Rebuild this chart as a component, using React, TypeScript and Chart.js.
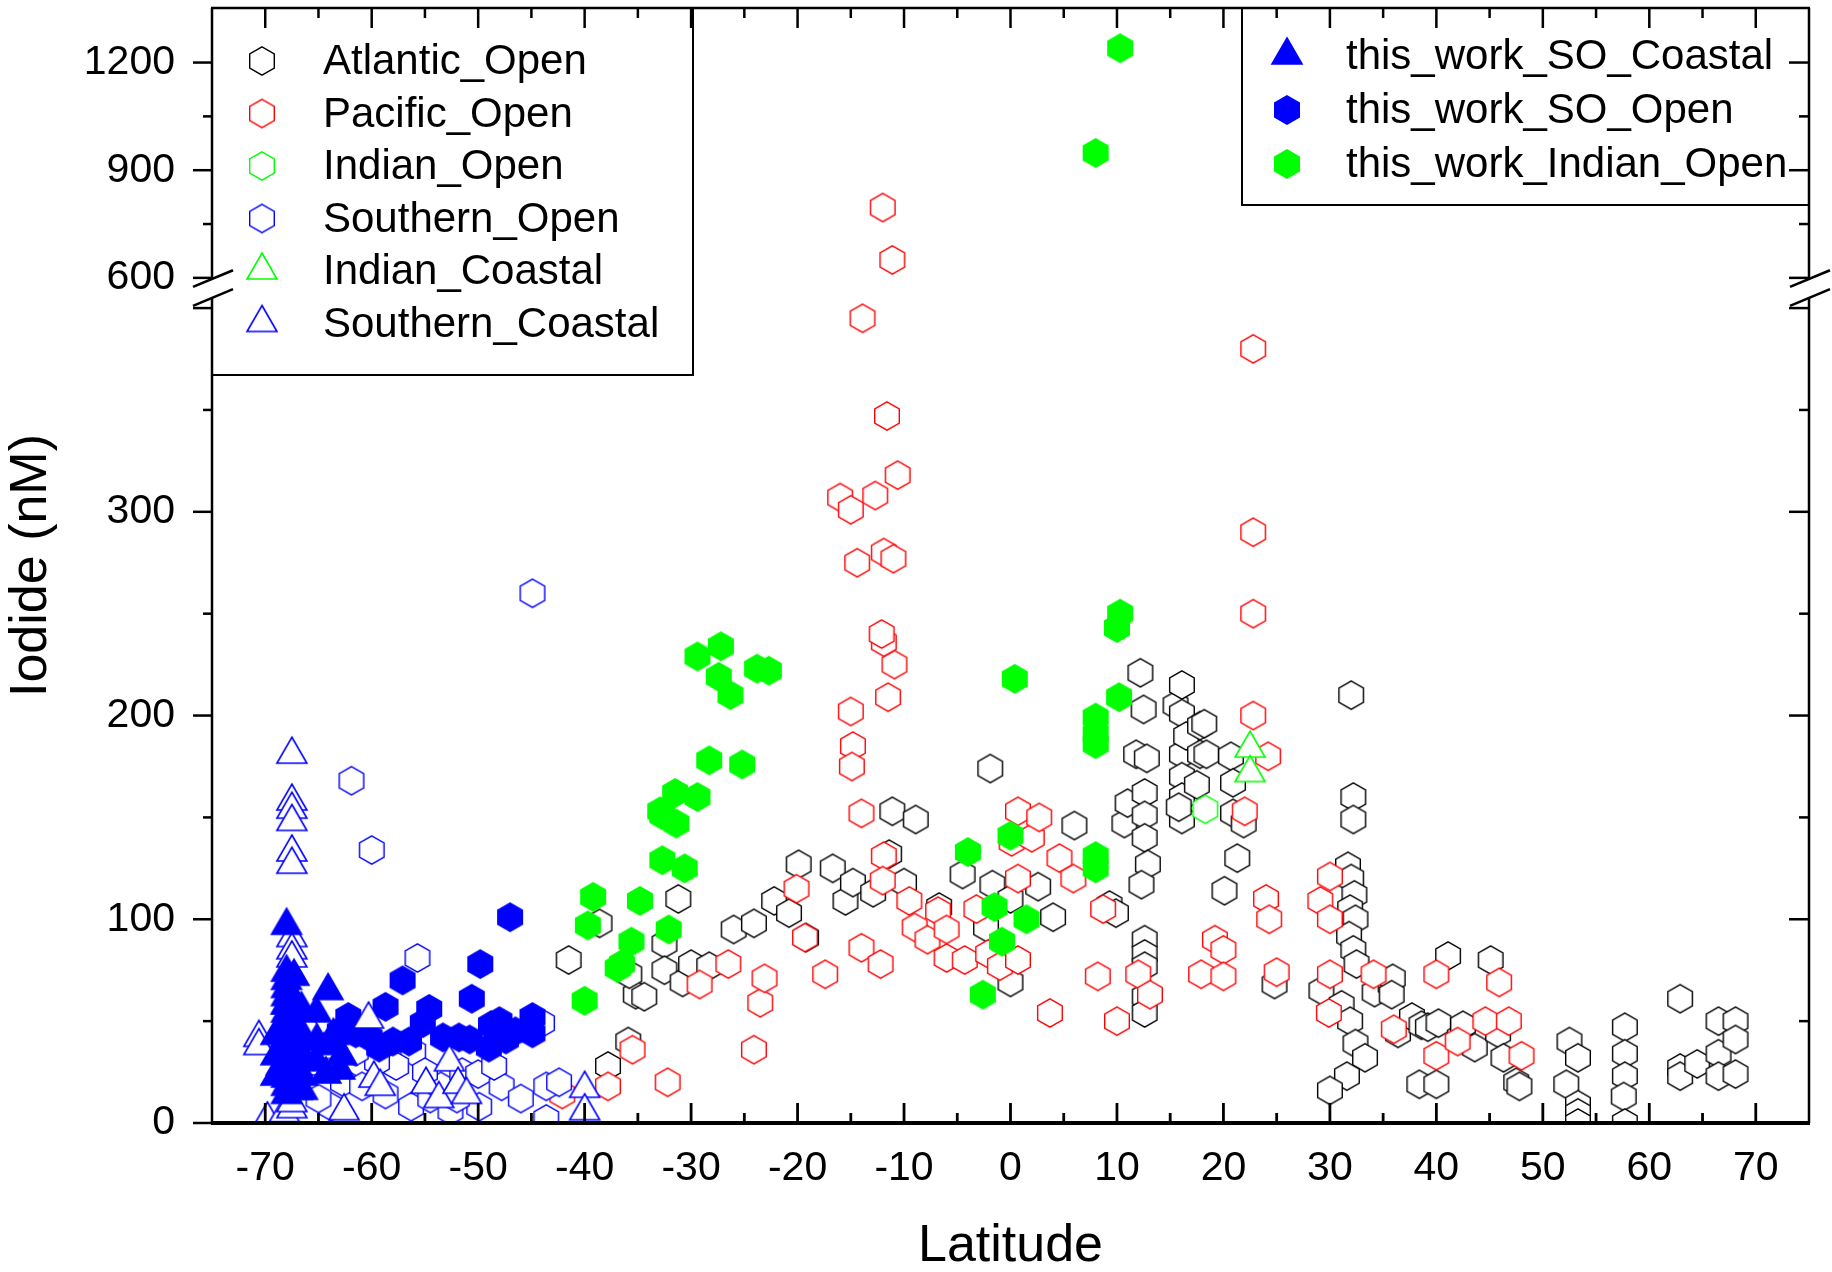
import { useEffect, useRef } from 'react';
import { Chart, ScatterController, PointElement, LinearScale } from 'chart.js';

const FONT = '"Liberation Sans", Arial, sans-serif';

// latitude, iodide (nM)
const atlanticOpen: [number, number][] = [
  [-41.5, 80], [-38.6, 98], [-37.8, 28], [-35.9, 40], [-35.2, 63], [-35.8, 73], [-34.4, 62], [-32.5, 88],
  [-32.5, 75], [-31.2, 110], [-30.8, 69], [-30.0, 78], [-28.3, 77], [-26.0, 95], [-24.1, 98], [-22.2, 109],
  [-20.8, 103], [-19.9, 127], [-19.2, 91], [-16.7, 125], [-15.5, 109], [-14.8, 118], [-12.9, 113], [-11.4, 132],
  [-11.1, 153], [-10.0, 118], [-8.9, 149], [-6.7, 106], [-4.5, 122], [-2.3, 96], [-1.9, 174], [-1.7, 117],
  [0.0, 110], [0.0, 69], [2.6, 116], [4.0, 101], [6.0, 146], [9.3, 107], [9.9, 103], [10.7, 147],
  [11.0, 157], [11.8, 181], [12.2, 221], [12.5, 203], [12.8, 179], [12.6, 162], [12.6, 151], [12.6, 140],
  [12.9, 127], [12.3, 117], [12.6, 90], [12.6, 83], [12.6, 77], [12.6, 62], [12.6, 54], [15.5, 205],
  [16.1, 215], [16.1, 201], [16.1, 181], [16.1, 170], [16.1, 160], [16.1, 149], [15.8, 155], [16.5, 190],
  [17.5, 166], [17.8, 195], [17.8, 181], [18.2, 196], [18.4, 181], [20.7, 180], [20.9, 167], [20.9, 152],
  [21.9, 147], [21.3, 130], [20.1, 114], [24.8, 68], [32.0, 210], [32.2, 160], [32.2, 149], [31.7, 126],
  [32.0, 120], [32.3, 112], [31.9, 105], [32.4, 100], [31.8, 92], [32.2, 85], [32.5, 78], [29.2, 65],
  [31.1, 58], [31.9, 50], [32.4, 39], [33.3, 32], [31.6, 23], [30.0, 16], [34.2, 64], [35.7, 68],
  [35.9, 71], [35.8, 63], [36.4, 44], [37.7, 52], [38.6, 48], [39.2, 47], [40.2, 49], [41.1, 82],
  [42.2, 42], [42.5, 48], [43.6, 37], [45.1, 80], [45.8, 44], [46.3, 32], [38.4, 19], [40.0, 19],
  [47.5, 20], [47.8, 18], [52.2, 19], [52.5, 40], [53.3, 32], [53.3, 9], [53.3, 5], [53.3, 0],
  [57.7, 47], [57.7, 34], [57.7, 23], [57.6, 13], [57.7, 0], [62.9, 61], [62.9, 27], [62.9, 23],
  [64.5, 29], [66.5, 50], [66.5, 34], [66.5, 23], [68.1, 50], [68.1, 41], [68.1, 24],
];

const pacificOpen: [number, number][] = [
  [-42.1, 14], [-37.8, 18], [-35.5, 36], [-32.2, 20], [-29.2, 68], [-26.5, 78], [-24.1, 36], [-23.5, 59],
  [-23.1, 71], [-20.1, 115], [-19.3, 91], [-17.4, 73], [-15.0, 202], [-14.8, 185], [-14.9, 175], [-14.0, 152],
  [-14.0, 86], [-12.2, 78], [-11.9, 131], [-12.0, 119], [-11.5, 209], [-10.9, 225], [-11.9, 236], [-12.1, 240],
  [-9.5, 109], [-9.0, 96], [-7.8, 90], [-6.8, 104], [-6.0, 95], [-6.0, 81], [-4.3, 80], [-3.2, 105],
  [-2.1, 83], [-1.0, 77], [0.1, 138], [0.7, 153], [0.7, 120], [0.7, 80], [2.0, 140], [2.7, 150],
  [4.6, 130], [5.9, 120], [3.7, 54], [8.2, 72], [8.7, 105], [10.0, 50], [12.0, 73], [13.1, 63],
  [17.9, 73], [19.2, 90], [20.0, 85], [20.0, 72], [22.0, 153], [22.8, 200], [24.2, 180], [24.0, 110],
  [24.3, 100], [25.0, 74], [29.1, 109], [30.0, 121], [30.0, 100], [30.0, 73], [29.9, 54], [34.1, 73],
  [36.0, 46], [40.0, 73], [40.0, 33], [42.0, 40], [44.6, 50], [46.8, 50], [45.9, 69], [48.0, 33],
  [-16.0, 307], [-15.0, 301], [-12.7, 308], [-14.4, 275], [-11.9, 280], [-11.0, 277], [-11.6, 347], [-10.6, 318],
  [-13.9, 395], [-11.1, 650], [-12.0, 796], [22.8, 380], [22.8, 290], [22.8, 250],
];

const indianOpen: [number, number][] = [[18.3, 154]];

const southernOpen: [number, number][] = [
  [-61.9, 168], [-60.0, 134], [-55.7, 81], [-56.1, 35], [-57.7, 28], [-62.7, 20], [-63.8, 8], [-60.9, 18],
  [-58.7, 14], [-56.3, 8], [-54.5, 12], [-53.5, 18], [-52.6, 6], [-51.5, 25], [-49.9, 8], [-50.0, 24],
  [-47.8, 18], [-46.0, 12], [-43.6, 18], [-42.4, 20], [-43.6, 2], [-44.0, 49], [-44.9, 260], [-59.5, 30],
  [-61.5, 35], [-55.0, 25], [-52.0, 12], [-48.5, 28], [-65.0, 12],
];

const indianCoastal: [number, number][] = [[22.5, 186], [22.5, 174]];

const southernCoastal: [number, number][] = [
  [-70.6, 44], [-70.6, 40], [-69.8, 4], [-68.2, 7], [-67.5, 9], [-67.5, 183], [-67.5, 160], [-67.5, 156],
  [-67.5, 150], [-67.5, 135], [-67.5, 129], [-67.5, 93], [-67.5, 87], [-67.5, 83], [-67.5, 12], [-67.0, 18],
  [-66.3, 40], [-65.5, 30], [-64.5, 38], [-62.6, 8], [-60.3, 53], [-59.8, 24], [-59.2, 20], [-54.9, 21],
  [-53.7, 14], [-52.7, 32], [-51.9, 21], [-51.1, 16], [-40.0, 19], [-40.0, 8], [-68.5, 30], [-68.0, 60],
  [-66.0, 50],
];

const workSoCoastal: [number, number][] = [
  [-68.0, 99], [-68.0, 76], [-68.0, 72], [-68.0, 68], [-68.0, 64], [-68.0, 60], [-68.0, 56], [-68.0, 52],
  [-68.0, 48], [-68.0, 44], [-68.0, 40], [-68.0, 36], [-68.0, 32], [-68.0, 28], [-68.0, 24], [-68.0, 20],
  [-68.0, 16], [-67.3, 74], [-67.3, 62], [-67.3, 50], [-67.3, 38], [-67.3, 28], [-69.0, 45], [-69.0, 35],
  [-69.0, 25], [-66.6, 58], [-66.5, 45], [-66.5, 35], [-66.5, 25], [-66.5, 18], [-65.2, 56], [-65.2, 42],
  [-65.2, 32], [-64.1, 67], [-64.1, 40], [-64.3, 26], [-63.6, 45], [-62.8, 35], [-63.0, 28],
];

const workSoOpen: [number, number][] = [
  [-62.2, 52], [-61.5, 44], [-60.2, 42], [-59.3, 37], [-58.7, 57], [-58.0, 40], [-57.1, 70], [-56.5, 40],
  [-55.2, 49], [-54.6, 56], [-53.3, 42], [-51.8, 42], [-50.8, 41], [-50.6, 61], [-49.8, 78], [-49.0, 37],
  [-48.8, 48], [-48.0, 50], [-47.4, 41], [-47.0, 101], [-46.5, 45], [-44.9, 52], [-44.9, 44], [-63.0, 45],
];

const workIndianOpen: [number, number][] = [
  [-40.0, 60], [-39.7, 97], [-39.2, 111], [-36.9, 76], [-36.5, 78], [-35.6, 89], [-34.8, 109], [-32.1, 95],
  [-32.7, 129], [-30.6, 125], [-32.9, 153], [-32.7, 151], [-31.4, 147], [-31.5, 162], [-29.4, 160], [-28.3, 178],
  [-25.2, 176], [-29.4, 229], [-27.2, 234], [-27.4, 219], [-26.3, 210], [-23.8, 223], [-22.7, 222], [-4.0, 133],
  [0.0, 141], [-1.5, 106], [-0.8, 89], [1.5, 100], [-2.6, 63], [0.4, 218], [8.0, 199], [8.0, 191],
  [8.0, 186], [8.0, 131], [8.0, 125], [10.2, 209], [10.0, 243], [10.3, 250], [8.0, 948], [10.3, 1240],
];

const xTicks = [-70, -60, -50, -40, -30, -20, -10, 0, 10, 20, 30, 40, 50, 60, 70];
const xMinor = [-65, -55, -45, -35, -25, -15, -5, 5, 15, 25, 35, 45, 55, 65];
const yTicks = [0, 100, 200, 300, 600, 900, 1200];
const yMajorMarks = [0, 100, 200, 300, 400, 600, 900, 1200];
const yMinorMarks = [50, 150, 250, 350, 750, 1050];

// broken y axis: 0..405 below the break, 597..1352 above it
const LOW_TOP = 405;
const HIGH_BOTTOM = 597;
const Y_MAX = 1352;
const LOW_SHARE = 0.74;
const GAP_SHARE = 0.017;

class BrokenLinearScale extends LinearScale {
  static id = 'brokenLinear';
  static defaults = {};

  toDecimal(v: number) {
    if (v <= LOW_TOP) return (v / LOW_TOP) * LOW_SHARE;
    if (v < HIGH_BOTTOM) return LOW_SHARE + GAP_SHARE / 2;
    return LOW_SHARE + GAP_SHARE + ((v - HIGH_BOTTOM) / (Y_MAX - HIGH_BOTTOM)) * (1 - LOW_SHARE - GAP_SHARE);
  }

  getPixelForValue(v: number) {
    return this.bottom - this.toDecimal(v) * (this.bottom - this.top);
  }

  getValueForPixel(p: number) {
    const d = (this.bottom - p) / (this.bottom - this.top);
    if (d <= LOW_SHARE) return (d / LOW_SHARE) * LOW_TOP;
    return HIGH_BOTTOM + ((d - LOW_SHARE - GAP_SHARE) / (1 - LOW_SHARE - GAP_SHARE)) * (Y_MAX - HIGH_BOTTOM);
  }
}

Chart.register(ScatterController, PointElement, LinearScale, BrokenLinearScale);

const HEX_R = 14.2;

function hexMarker(stroke: string, fill: string) {
  const c = document.createElement('canvas');
  c.width = 32;
  c.height = 32;
  const g = c.getContext('2d')!;
  g.beginPath();
  for (let k = 0; k < 6; k++) {
    const a = -Math.PI / 2 + (k * Math.PI) / 3;
    const px = 16 + HEX_R * Math.cos(a);
    const py = 16 + HEX_R * Math.sin(a);
    if (k === 0) g.moveTo(px, py);
    else g.lineTo(px, py);
  }
  g.closePath();
  g.fillStyle = fill;
  g.fill();
  g.lineWidth = 1.4;
  g.strokeStyle = stroke;
  g.stroke();
  return c;
}

function triMarker(stroke: string, fill: string) {
  const c = document.createElement('canvas');
  c.width = 36;
  c.height = 32;
  const g = c.getContext('2d')!;
  g.beginPath();
  g.moveTo(18, 3);
  g.lineTo(33, 29);
  g.lineTo(3, 29);
  g.closePath();
  g.fillStyle = fill;
  g.fill();
  g.lineWidth = 1.6;
  g.strokeStyle = stroke;
  g.stroke();
  return c;
}

const toXY = (rows: [number, number][]) => rows.map(([x, y]) => ({ x, y }));

export default function App() {
  const canvasRef = useRef<HTMLCanvasElement>(null);

  useEffect(() => {
    if (!canvasRef.current) return;
    document.body.style.margin = '0';

    const BLACK = '#000000';
    const RED = '#ff0000';
    const GREEN = '#00ff00';
    const BLUE = '#0000ff';

    const series = [
      { label: 'Atlantic_Open', rows: atlanticOpen, marker: hexMarker(BLACK, '#fff'), order: 9 },
      { label: 'Pacific_Open', rows: pacificOpen, marker: hexMarker(RED, '#fff'), order: 8 },
      { label: 'Indian_Open', rows: indianOpen, marker: hexMarker(GREEN, '#fff'), order: 7 },
      { label: 'Southern_Open', rows: southernOpen, marker: hexMarker(BLUE, '#fff'), order: 6 },
      { label: 'Indian_Coastal', rows: indianCoastal, marker: triMarker(GREEN, '#fff'), order: 3 },
      { label: 'Southern_Coastal', rows: southernCoastal, marker: triMarker(BLUE, '#fff'), order: 2 },
      { label: 'this_work_SO_Coastal', rows: workSoCoastal, marker: triMarker(BLUE, BLUE), order: 1 },
      { label: 'this_work_SO_Open', rows: workSoOpen, marker: hexMarker(BLUE, BLUE), order: 5 },
      { label: 'this_work_Indian_Open', rows: workIndianOpen, marker: hexMarker(GREEN, GREEN), order: 4 },
    ];

    const frame = {
      id: 'frame',
      afterDraw(chart: any) {
        const { ctx, chartArea: a } = chart;
        const x = chart.scales.x;
        const y = chart.scales.y;
        ctx.save();

        // legends
        const legend = (
          box: { l: number; t: number; r: number; b: number; side: 'left' | 'right' },
          items: typeof series,
          mx: number, tx: number, y0: number, dy: number,
        ) => {
          ctx.fillStyle = '#fff';
          ctx.fillRect(box.l, box.t, box.r - box.l, box.b - box.t);
          ctx.strokeStyle = '#000';
          ctx.lineWidth = 2;
          ctx.beginPath();
          if (box.side === 'left') {
            ctx.moveTo(box.r, box.t);
            ctx.lineTo(box.r, box.b);
            ctx.lineTo(box.l, box.b);
          } else {
            ctx.moveTo(box.l, box.t);
            ctx.lineTo(box.l, box.b);
            ctx.lineTo(box.r, box.b);
          }
          ctx.stroke();
          ctx.font = `42px ${FONT}`;
          ctx.fillStyle = '#000';
          ctx.textAlign = 'left';
          ctx.textBaseline = 'alphabetic';
          items.forEach((s, i) => {
            const ry = y0 + i * dy;
            const isTri = s.marker.width === 36;
            const my = isTri ? ry - 5 : ry;
            ctx.drawImage(s.marker, mx - s.marker.width / 2, my - s.marker.height / 2);
            ctx.fillText(s.label, tx, ry + 13);
          });
        };
        legend({ l: a.left, t: a.top, r: 693, b: 375, side: 'left' }, series.slice(0, 6), 262, 323, 61, 52.5);
        legend({ l: 1242, t: a.top, r: a.right, b: 205, side: 'right' }, series.slice(6), 1287, 1346, 56, 54);

        const lowPx = y.getPixelForValue(LOW_TOP);
        const highPx = y.getPixelForValue(HIGH_BOTTOM);

        ctx.strokeStyle = '#000';
        ctx.lineCap = 'butt';
        const line = (x1: number, y1: number, x2: number, y2: number, w: number) => {
          ctx.lineWidth = w;
          ctx.beginPath();
          ctx.moveTo(x1, y1);
          ctx.lineTo(x2, y2);
          ctx.stroke();
        };

        // frame
        line(a.left, a.bottom, a.left, lowPx, 2.5);
        line(a.left, highPx, a.left, a.top, 2.5);
        line(a.right, a.bottom, a.right, lowPx, 2.5);
        line(a.right, highPx, a.right, a.top, 2.5);
        line(a.left - 1, a.top, a.right + 1, a.top, 2.5);
        line(a.left - 1, a.bottom, a.right + 1, a.bottom, 4);

        // x ticks: inward on bottom and top
        xTicks.forEach((v) => {
          const px = x.getPixelForValue(v);
          line(px, a.bottom, px, a.bottom - 20, 2.8);
          line(px, a.top, px, a.top + 20, 2.5);
        });
        xMinor.forEach((v) => {
          const px = x.getPixelForValue(v);
          line(px, a.bottom, px, a.bottom - 10, 2.8);
          line(px, a.top, px, a.top + 10, 2.5);
        });

        // y ticks: outward on the left, inward on the right
        yMajorMarks.forEach((v) => {
          const py = y.getPixelForValue(v);
          line(a.left - 19, py, a.left, py, 2.5);
          line(a.right - 20, py, a.right, py, 2.5);
        });
        yMinorMarks.forEach((v) => {
          const py = y.getPixelForValue(v);
          line(a.left - 9, py, a.left, py, 2.5);
          line(a.right - 10, py, a.right, py, 2.5);
        });

        // axis break marks
        const slope = -17.4 / 41.7;
        [a.left, a.right].forEach((ax) => {
          [highPx, lowPx].forEach((py) => {
            line(ax - 19, py - 19 * slope, ax + 21, py + 21 * slope, 2.6);
          });
        });

        ctx.restore();
      },
    };

    const chart = new Chart(canvasRef.current, {
      type: 'scatter',
      data: {
        datasets: series.map((s) => ({
          label: s.label,
          data: toXY(s.rows),
          pointStyle: s.marker,
          pointRadius: 14,
          order: s.order,
        })),
      },
      options: {
        animation: false,
        responsive: false,
        devicePixelRatio: 1,
        events: [],
        layout: { autoPadding: false, padding: { left: 0, top: 8, right: 23, bottom: 0 } },
        plugins: { legend: { display: false }, tooltip: { enabled: false } },
        scales: {
          x: {
            type: 'linear',
            min: -75,
            max: 75,
            grid: { display: false, drawTicks: false },
            border: { display: false },
            afterBuildTicks: (s: any) => {
              s.ticks = xTicks.map((value) => ({ value }));
            },
            afterFit: (s: any) => {
              s.height = 149;
              s.paddingLeft = 0;
              s.paddingRight = 0;
            },
            ticks: {
              autoSkip: false,
              maxRotation: 0,
              padding: 21,
              color: '#000',
              font: { family: FONT, size: 41 },
              callback: (v: any) => String(v),
            },
            title: {
              display: true,
              text: 'Latitude',
              color: '#000',
              font: { family: FONT, size: 52 },
              padding: { top: 0, bottom: -6 },
            },
          },
          y: {
            type: 'brokenLinear',
            min: 0,
            max: Y_MAX,
            grid: { display: false, drawTicks: false },
            border: { display: false },
            afterBuildTicks: (s: any) => {
              s.ticks = yTicks.map((value) => ({ value }));
            },
            afterFit: (s: any) => {
              s.width = 212;
              s.paddingTop = 0;
              s.paddingBottom = 0;
            },
            ticks: {
              autoSkip: false,
              padding: 37,
              color: '#000',
              font: { family: FONT, size: 41 },
              callback: (v: any) => String(v),
            },
            title: {
              display: true,
              text: 'Iodide (nM)',
              color: '#000',
              font: { family: FONT, size: 52 },
              padding: 0,
            },
          },
        } as any,
      },
      plugins: [frame],
    });

    return () => {
      chart.destroy();
    };
  }, []);

  return (
    <div style={{ width: 1832, height: 1272 }}>
      <canvas ref={canvasRef} width={1832} height={1272} style={{ display: 'block' }} />
    </div>
  );
}
